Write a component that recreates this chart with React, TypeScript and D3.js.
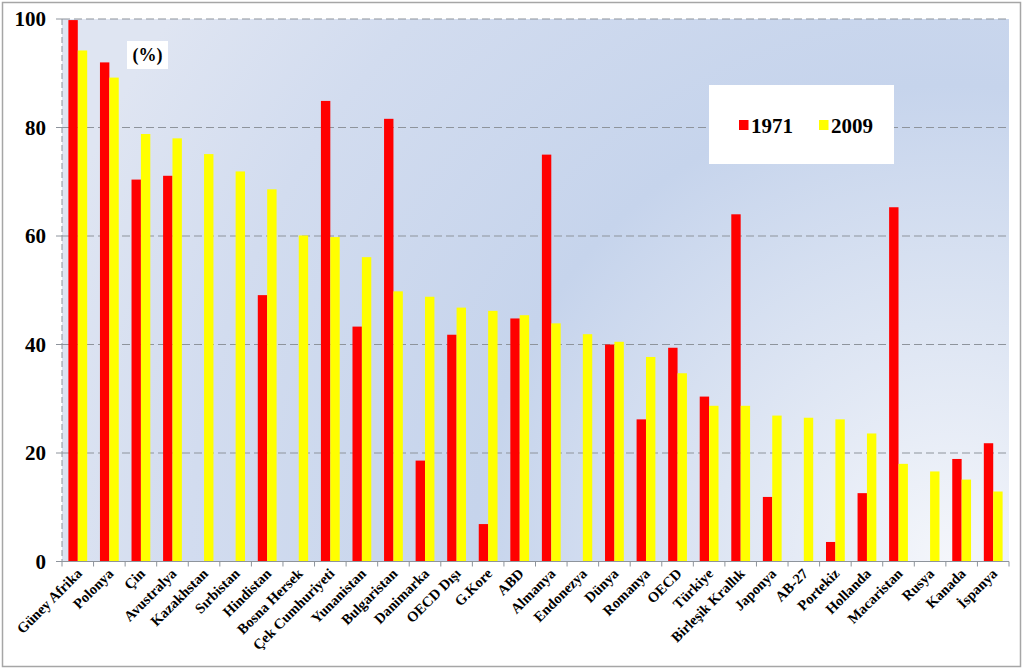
import React from "react";
import * as d3 from "d3";

const categories = [
  "Güney Afrika", "Polonya", "Çin", "Avustralya", "Kazakhstan", "Sırbistan", "Hindistan",
  "Bosna Hersek", "Çek Cumhuriyeti", "Yunanistan", "Bulgaristan", "Danimarka", "OECD Dışı",
  "G.Kore", "ABD", "Almanya", "Endonezya", "Dünya", "Romanya", "OECD", "Türkiye",
  "Birleşik Krallık", "Japonya", "AB-27", "Portekiz", "Hollanda", "Macaristan", "Rusya",
  "Kanada", "İspanya",
];
const values1971: (number | null)[] = [
  99.8, 92.0, 70.4, 71.1, null, null, 49.1, null, 84.9, 43.3, 81.6, 18.6, 41.8, 6.9, 44.8,
  75.0, null, 40.0, 26.2, 39.4, 30.4, 64.0, 11.9, null, 3.6, 12.6, 65.3, null, 18.9, 21.8,
];
const values2009: (number | null)[] = [
  94.2, 89.2, 78.8, 78.0, 75.1, 71.9, 68.6, 60.1, 59.8, 56.1, 49.8, 48.8, 46.8, 46.2, 45.4,
  43.9, 41.9, 40.5, 37.7, 34.7, 28.7, 28.7, 26.9, 26.5, 26.2, 23.6, 18.0, 16.6, 15.1, 12.9,
];
const seriesNames = ["1971", "2009"];
const seriesColors = ["#ff0000", "#ffff00"];
const yTicks = [0, 20, 40, 60, 80, 100];

const W = 1024;
const H = 669;
const left = 62;
const right = 1009;
const top = 19;
const bottom = 561.5;

export default function App() {
  const x0 = d3.scaleBand<string>().domain(categories).range([left, right]).padding(0);
  const x1 = d3
    .scaleBand<string>()
    .domain(seriesNames)
    .range([0, x0.bandwidth()])
    .paddingInner(0)
    .paddingOuter(0.68);
  const y = d3.scaleLinear().domain([0, 100]).range([bottom, top]);
  const series = [values1971, values2009];
  const font = "'Liberation Serif', 'Times New Roman', serif";
  const step = x0.step();

  return (
    <svg
      width={W}
      height={H}
      style={{ position: "absolute", left: 0, top: 0, background: "#fff" }}
      fontFamily={font}
    >
      <defs>
        <radialGradient id="bg" gradientUnits="userSpaceOnUse" cx={950} cy={560} r={950}>
          <stop offset="0" stopColor="#f4f6fb" />
          <stop offset="0.25" stopColor="#dde5f3" />
          <stop offset="0.5" stopColor="#c6d4ec" />
          <stop offset="0.8" stopColor="#d2dcef" />
          <stop offset="1" stopColor="#dfe5f2" />
        </radialGradient>
      </defs>
      <rect x={2.5} y={2.5} width={1018} height={664} fill="#fff" stroke="#a6a6a6" strokeWidth={1.5} />
      <rect x={left} y={top} width={right - left} height={bottom - top} fill="url(#bg)" />

      {/* gridlines */}
      {yTicks
        .filter((t) => t > 0)
        .map((t) => (
          <line
            key={"g" + t}
            x1={left}
            x2={right}
            y1={y(t)}
            y2={y(t)}
            stroke="#8e949c"
            strokeWidth={1.2}
            strokeDasharray="8,4"
          />
        ))}

      {/* bars */}
      {series.map((vals, si) =>
        categories.map((c, i) => {
          const v = vals[i];
          if (v == null) return null;
          return (
            <rect
              key={si + "-" + c}
              x={(x0(c) as number) + (x1(seriesNames[si]) as number)}
              y={y(v)}
              width={x1.bandwidth()}
              height={y(0) - y(v)}
              fill={seriesColors[si]}
            />
          );
        })
      )}

      {/* y axis */}
      <line x1={left} x2={left} y1={top} y2={bottom} stroke="#8e949c" strokeDasharray="6,3" />
      {yTicks.map((t) => (
        <g key={"yt" + t}>
          <line x1={left - 6} x2={left} y1={y(t)} y2={y(t)} stroke="#8e949c" />
          <text
            x={46}
            y={y(t)}
            dy="0.35em"
            textAnchor="end"
            fontSize={21}
            fontWeight="bold"
            fill="#000"
          >
            {t}
          </text>
        </g>
      ))}

      {/* x axis */}
      <line x1={left} x2={right} y1={bottom} y2={bottom} stroke="#8e949c" strokeWidth={1.2} />
      {categories.map((c, i) => (
        <line
          key={"xt" + i}
          x1={x0(c) as number}
          x2={x0(c) as number}
          y1={bottom}
          y2={bottom + 5}
          stroke="#8e949c"
        />
      ))}
      <line x1={right} x2={right} y1={bottom} y2={bottom + 5} stroke="#8e949c" />
      {categories.map((c) => {
        const cx = (x0(c) as number) + step / 2 + 5;
        const cy = bottom + 13;
        return (
          <text
            key={"xl" + c}
            x={cx}
            y={cy}
            textAnchor="end"
            fontSize={14.5}
            fontWeight="bold"
            transform={`rotate(-45 ${cx} ${cy})`}
            fill="#000"
          >
            {c}
          </text>
        );
      })}

      {/* (%) label */}
      <rect x={127} y={41} width={41} height={28} fill="#fff" />
      <text x={147.5} y={55} dy="0.35em" textAnchor="middle" fontSize={18} fontWeight="bold">
        (%)
      </text>

      {/* legend */}
      <rect x={709} y={85} width={185} height={79} fill="#fff" />
      {seriesNames.map((s, i) => {
        const lx = 739 + i * 80;
        return (
          <g key={"lg" + s}>
            <rect x={lx} y={120} width={9.5} height={10} fill={seriesColors[i]} />
            <text x={lx + 12} y={132.5} fontSize={21} fontWeight="bold">
              {s}
            </text>
          </g>
        );
      })}
    </svg>
  );
}
